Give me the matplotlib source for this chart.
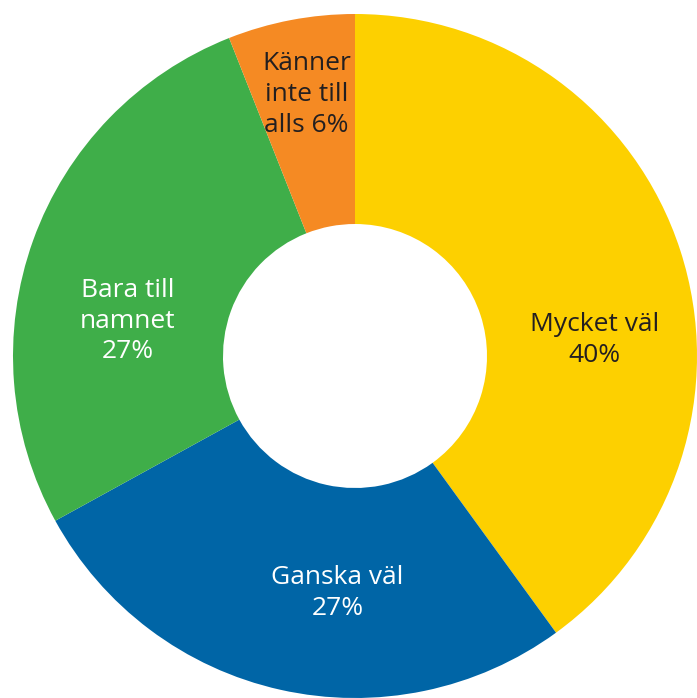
import matplotlib
matplotlib.use("Agg")
import matplotlib.pyplot as plt

labels = ["Mycket väl\n40%", "Ganska väl\n27%", "Bara till\nnamnet\n27%", "Känner\ninte till\nalls 6%"]
values = [40, 27, 27, 6]
colors = ["#FDD000", "#0065A6", "#3FAE49", "#F58A23"]
text_colors = ["#231F20", "white", "white", "#231F20"]
# label positions in data units (radius 1 = outer edge)
label_pos = [(0.70, 0.047), (-0.051, -0.694), (-0.665, 0.102), (-0.142, 0.765)]

plt.rcParams["font.family"] = ["Open Sans", "DejaVu Sans"]

fig = plt.figure(figsize=(6.97, 6.98), dpi=100)
ax = fig.add_axes([0, 0, 1, 1])

ax.pie(values, colors=colors, startangle=90, counterclock=False,
       radius=1.0, wedgeprops=dict(width=1 - 132 / 342, linewidth=0))

for lab, (x, y), tc in zip(labels, label_pos, text_colors):
    ax.text(x, y, lab, ha="center", va="center", fontsize=19,
            color=tc, linespacing=1.3)

ax.set_xlim(-355 / 342, 342 / 342)
ax.set_ylim(-342 / 342, 356 / 342)
ax.set_aspect("auto")
ax.axis("off")

fig.savefig("out.png", dpi=100)
